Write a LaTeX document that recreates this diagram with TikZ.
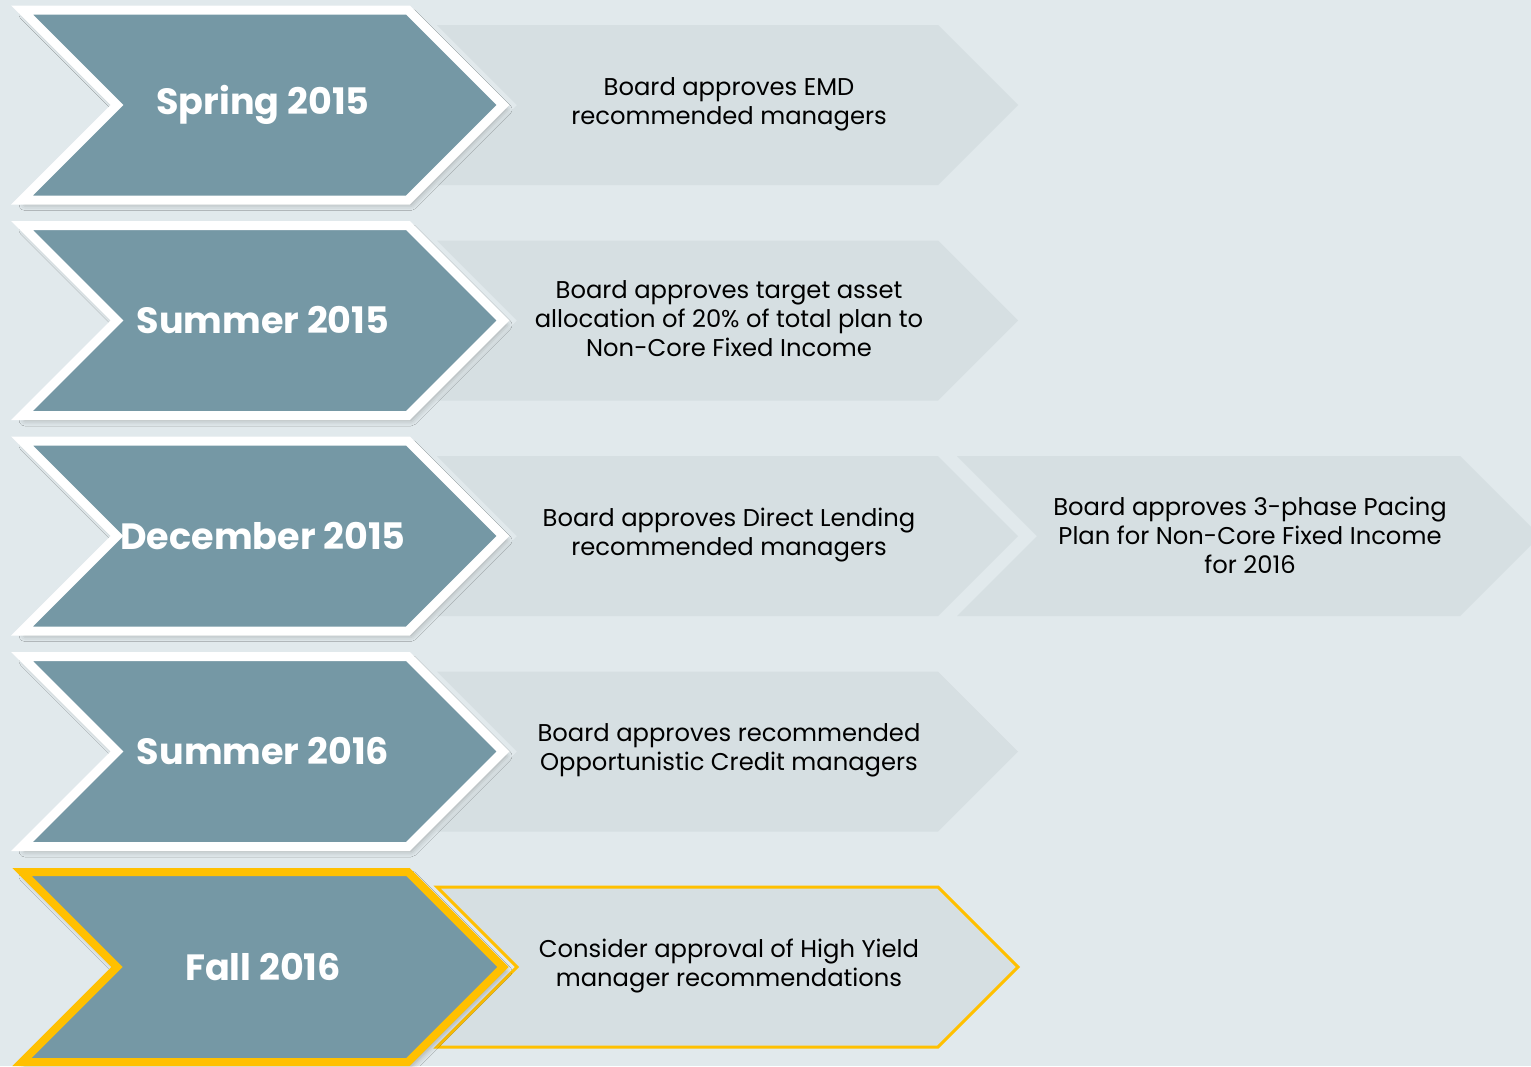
\documentclass[tikz,border=0pt]{standalone}
\usepackage{fontspec}
\setmainfont{Poppins}
\usetikzlibrary{shadows.blur}

\definecolor{slate}{HTML}{7598A5}
\definecolor{mist}{HTML}{D6DFE2}
\definecolor{paper}{HTML}{E1E9EC}
\definecolor{gold}{HTML}{FFC000}

% chevron: left x, centre y, top-right x, half height
\newcommand{\chevpath}[4]{(#1,#2-#4) -- (#3,#2-#4) -- (#3+#4,#2) -- (#3,#2+#4) -- (#1,#2+#4) -- (#1+#4,#2) -- cycle}

\begin{document}
\begin{tikzpicture}[x=0.02cm, y=-0.02cm,
    lightchev/.style={fill=mist},
    darkchev/.style={fill=slate, draw=white, line width=0.18cm,
        blur shadow={shadow xshift=0.6mm, shadow yshift=-0.9mm, shadow blur radius=1.2mm, shadow opacity=30}},
    title/.style={text=white, font=\bfseries\fontsize{20.8}{25}\selectfont},
    note/.style={align=center, font=\fontsize{13.8}{16.5}\selectfont}]
    % Background
    \fill[paper] (0,0) rectangle (1531,1066);
    \useasboundingbox (0,0) rectangle (1531,1066);

    % Light chevrons
    \fill[lightchev] \chevpath{437}{105}{938}{80};
    \fill[lightchev] \chevpath{437}{320.5}{938}{80};
    \fill[lightchev] \chevpath{437}{536}{938}{80};
    \fill[lightchev] \chevpath{957}{536}{1460}{80};
    \fill[lightchev] \chevpath{437}{751.5}{938}{80};
    \filldraw[lightchev, draw=gold, line width=0.06cm] \chevpath{437}{967}{938}{80};

    % Dark chevrons
    \path[darkchev] \chevpath{22}{105}{408}{95};
    \path[darkchev] \chevpath{22}{320.5}{408}{95};
    \path[darkchev] \chevpath{22}{536}{408}{95};
    \path[darkchev] \chevpath{22}{751.5}{408}{95};
    \path[darkchev, draw=gold, line width=0.16cm] \chevpath{22}{967}{408}{95};

    % Dates
    \node[title] (spring15) at (263,105) {Spring 2015};
    \node[title] (summer15) at (263,320) {Summer 2015};
    \node[title] (dec15) at (263,536) {December 2015};
    \node[title] (summer16) at (263,751) {Summer 2016};
    \node[title] (fall16) at (263,967) {Fall 2016};

    % Board actions
    \node[note] (emd) at (729,104) {Board approves EMD\\recommended managers};
    \node[note] (alloc) at (729,319) {Board approves target asset\\allocation of 20\% of total plan to\\Non-Core Fixed Income};
    \node[note] (lending) at (729,535) {Board approves Direct Lending\\recommended managers};
    \node[note] (pacing) at (1250,535) {Board approves 3-phase Pacing\\Plan for Non-Core Fixed Income\\for 2016};
    \node[note] (credit) at (729,750) {Board approves recommended\\Opportunistic Credit managers};
    \node[note] (highyield) at (729,966) {Consider approval of High Yield\\manager recommendations};
\end{tikzpicture}
\end{document}
